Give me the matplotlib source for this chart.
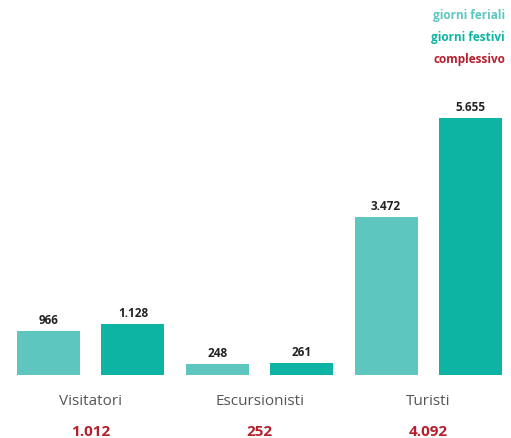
import matplotlib
matplotlib.use("Agg")
import matplotlib.pyplot as plt

# data
categories = ["Visitatori", "Escursionisti", "Turisti"]
feriali = [966, 248, 3472]
festivi = [1128, 261, 5655]
complessivo = [1012, 252, 4092]

c_feriali = "#5cc6bf"
c_festivi = "#0db3a3"
c_red = "#b5202e"

plt.rcParams['font.family'] = ['Open Sans', 'DejaVu Sans']


def fmt(v):
    return f"{v:,}".replace(",", ".")


fig = plt.figure(figsize=(5.11, 4.39), dpi=100)
ax = fig.add_axes([0, 63 / 439, 1, 376 / 439])

step = 84.4
w = 63 / step
for i, cat in enumerate(categories):
    for j, (vals, col) in enumerate([(feriali, c_feriali), (festivi, c_festivi)]):
        x = 2 * i + j
        ax.bar(x, vals[i], width=w, color=col)
        ax.text(x, vals[i] + 110, fmt(vals[i]), ha="center", va="bottom",
                fontsize=8.5, fontweight="bold", color="#222222")
    xc = 2 * i + 0.5
    ax.text(xc, -0.068, cat, transform=ax.get_xaxis_transform(),
            ha="center", va="center", fontsize=11, color="#555555")
    ax.text(xc, -0.16, fmt(complessivo[i]), transform=ax.get_xaxis_transform(),
            ha="center", va="baseline", fontsize=11, fontweight="bold", color=c_red)

ax.set_xlim(-48.5 / step, (511 - 48.5) / step)
ax.set_ylim(0, 376 * 5655 / 257)
ax.axis("off")

# legend
for k, (lab, col) in enumerate([("giorni feriali", c_feriali),
                                ("giorni festivi", c_festivi),
                                ("complessivo", c_red)]):
    fig.text(505 / 511, 1 - (15 + 22.5 * k) / 439, lab, ha="right", va="center",
             fontsize=8.5, fontweight="bold", color=col)

fig.savefig("out.png", dpi=100)
